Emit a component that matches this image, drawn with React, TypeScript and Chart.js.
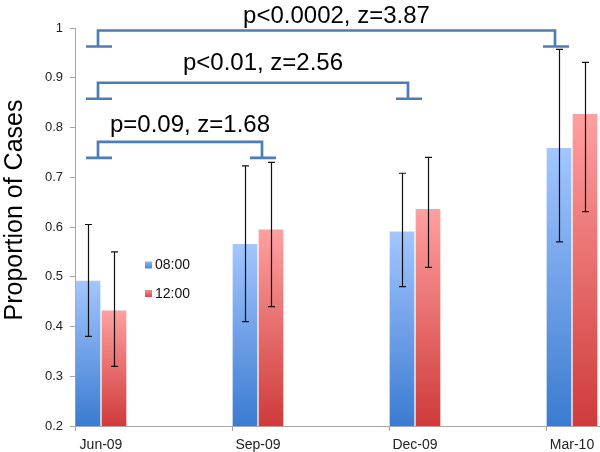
import React, { useEffect, useRef } from 'react';
import { Chart, registerables } from 'chart.js';

Chart.register(...registerables);

// ---- data ----
const categories = ['Jun-09', 'Sep-09', 'Dec-09', 'Mar-10'];
const seriesNames = ['08:00', '12:00'];
const am = [0.492, 0.566, 0.591, 0.759];
const pm = [0.432, 0.595, 0.636, 0.827];
const amLow = [0.38, 0.41, 0.48, 0.57];
const amHigh = [0.605, 0.723, 0.708, 0.957];
const pmLow = [0.32, 0.44, 0.519, 0.631];
const pmHigh = [0.55, 0.73, 0.74, 0.931];
const yMin = 0.2;
const yMax = 1;
const yStep = 0.1;
const yTitle = 'Proportion of Cases';

// significance comparisons (between Jun-09 and later dates)
const comparisonLabels = ['p=0.09, z=1.68', 'p<0.01, z=2.56', 'p<0.0002, z=3.87'];
const comparisonFrom = [0, 0, 0];
const comparisonTo = [1, 2, 3];
const comparisonLevel = [0.771, 0.89, 0.995];

// ---- styles ----
const FONT = '"Liberation Sans", Arial, Helvetica, sans-serif';
const BRACKET_COLOR = '#4a7ebb';
const rightNudge = [4, -7, -17];
const labelLift = [10, 12.5, 7];
const GROUP_HALF = 26 / 157; // fraction of a category used by half a group

const gradientFill = (top: string, bottom: string) => (c: any) => {
  const chart = c.chart;
  const area = chart.chartArea;
  if (!area || !c.parsed || c.type !== 'data') return bottom;
  const y0 = chart.scales.y.getPixelForValue(c.parsed.y);
  const g = chart.ctx.createLinearGradient(0, y0, 0, area.bottom);
  g.addColorStop(0, top);
  g.addColorStop(1, bottom);
  return g;
};

const overlay = {
  id: 'overlay',
  afterDatasetsDraw(chart: any) {
    const { ctx, scales } = chart;
    const ys = scales.y;
    const ranges = [
      [amLow, amHigh],
      [pmLow, pmHigh],
    ];
    ctx.save();
    ctx.strokeStyle = '#111';
    ctx.lineWidth = 1.2;
    ranges.forEach(([lo, hi], di) => {
      const meta = chart.getDatasetMeta(di);
      meta.data.forEach((bar: any, i: number) => {
        const x = Math.round(bar.x) + 0.5;
        const yl = ys.getPixelForValue(lo[i]);
        const yh = ys.getPixelForValue(hi[i]);
        ctx.beginPath();
        ctx.moveTo(x, yl);
        ctx.lineTo(x, yh);
        ctx.moveTo(x - 3.5, yl);
        ctx.lineTo(x + 3.5, yl);
        ctx.moveTo(x - 3.5, yh);
        ctx.lineTo(x + 3.5, yh);
        ctx.stroke();
      });
    });
    ctx.restore();
  },
  afterDraw(chart: any) {
    const { ctx, scales, chartArea } = chart;
    const xs = scales.x;
    const ys = scales.y;

    // brackets
    ctx.save();
    ctx.strokeStyle = BRACKET_COLOR;
    ctx.lineWidth = 2.7;
    ctx.lineCap = 'butt';
    comparisonLabels.forEach((label, k) => {
      const xl = xs.getPixelForValue(comparisonFrom[k]) - 3;
      const xr = xs.getPixelForValue(comparisonTo[k]) + rightNudge[k];
      const yt = ys.getPixelForValue(comparisonLevel[k]);
      const yf = yt + 16;
      ctx.beginPath();
      ctx.moveTo(xl - 12, yf);
      ctx.lineTo(xl + 14, yf);
      ctx.moveTo(xl, yf);
      ctx.lineTo(xl, yt);
      ctx.lineTo(xr, yt);
      ctx.lineTo(xr, yf);
      ctx.moveTo(xr - 12, yf);
      ctx.lineTo(xr + 14, yf);
      ctx.stroke();
      ctx.fillStyle = '#000';
      ctx.font = `24px ${FONT}`;
      ctx.textAlign = 'center';
      ctx.textBaseline = 'alphabetic';
      ctx.fillText(label, (xl + xr) / 2 + 10, yt - labelLift[k]);
    });
    ctx.restore();

    // legend
    ctx.save();
    ctx.font = `14px ${FONT}`;
    ctx.textBaseline = 'middle';
    ctx.textAlign = 'left';
    const lx = chartArea.left + 70;
    const legendRows = [chartArea.top + 237, chartArea.top + 265.5];
    chart.data.datasets.forEach((ds: any, i: number) => {
      const cy = legendRows[i];
      const g = ctx.createLinearGradient(0, cy - 3.5, 0, cy + 3.5);
      g.addColorStop(0, ds.legendTop);
      g.addColorStop(1, ds.legendBottom);
      ctx.fillStyle = g;
      ctx.fillRect(lx, cy - 3.5, 7, 7);
      ctx.fillStyle = '#111';
      ctx.fillText(ds.label, lx + 10, cy + 0.5);
    });
    ctx.restore();

    // y axis title
    ctx.save();
    ctx.font = `25px ${FONT}`;
    ctx.fillStyle = '#000';
    ctx.textAlign = 'center';
    ctx.textBaseline = 'alphabetic';
    ctx.translate(21.5, (chartArea.top + chartArea.bottom) / 2 - 17);
    ctx.rotate(-Math.PI / 2);
    ctx.fillText(yTitle, 0, 0);
    ctx.restore();
  },
};

export default function App() {
  const ref = useRef<HTMLCanvasElement | null>(null);

  useEffect(() => {
    if (!ref.current) return;
    const chart = new Chart(ref.current, {
      type: 'bar',
      data: {
        datasets: [
          {
            label: seriesNames[0],
            data: am.map((v, i) => ({ x: i, y: v })),
            backgroundColor: gradientFill('#a3c6ff', '#3b7bd0'),
            legendTop: '#8fb6f0',
            legendBottom: '#4a86d6',
            borderWidth: 0,
          } as any,
          {
            label: seriesNames[1],
            data: pm.map((v, i) => ({ x: i, y: v })),
            backgroundColor: gradientFill('#ffa0a0', '#cf3b3b'),
            legendTop: '#f28a8a',
            legendBottom: '#d84a4a',
            borderWidth: 0,
          } as any,
        ],
      },
      options: {
        responsive: false,
        animation: false,
        devicePixelRatio: 1,
        datasets: {
          bar: {
            categoryPercentage: 52 / 157,
            barPercentage: 0.95,
          },
        },
        layout: { padding: { top: 28, left: 0, right: 0, bottom: 0 } },
        plugins: {
          legend: { display: false },
          tooltip: { enabled: false },
        },
        scales: {
          x: {
            type: 'linear',
            offset: false,
            min: -GROUP_HALF,
            max: categories.length - 1 + (499 / 157 - 3),
            afterBuildTicks: (scale: any) => {
              scale.ticks = categories.map((_, i) => ({ value: i - GROUP_HALF }));
            },
            afterFit: (scale: any) => {
              scale.height = 26;
            },
            ticks: {
              callback: (value: any) => categories[Math.round(Number(value) + GROUP_HALF)],
              labelOffset: 26,
              padding: 6,
              maxRotation: 0,
              autoSkip: false,
              color: '#222',
              font: { family: FONT, size: 14 },
            },
            grid: {
              offset: false,
              drawOnChartArea: false,
              drawTicks: true,
              tickLength: 5,
              color: '#a6a6a6',
            },
            border: { display: true, color: '#a6a6a6', width: 1 },
          },
          y: {
            min: yMin,
            max: yMax,
            afterFit: (scale: any) => {
              scale.width = 75;
            },
            ticks: {
              stepSize: yStep,
              padding: 7,
              color: '#222',
              font: { family: FONT, size: 13 },
              callback: (value: any) => String(Number(Number(value).toFixed(2))),
            },
            grid: {
              drawOnChartArea: false,
              drawTicks: true,
              tickLength: 5,
              color: '#a6a6a6',
            },
            border: { display: true, color: '#a6a6a6', width: 1 },
          },
        } as any,
      },
      plugins: [overlay],
    });
    return () => chart.destroy();
  }, []);

  return (
    <div style={{ position: 'fixed', left: 0, top: 0, width: 600, height: 452, background: '#fff' }}>
      <canvas ref={ref} width={600} height={452} style={{ display: 'block' }} />
    </div>
  );
}
